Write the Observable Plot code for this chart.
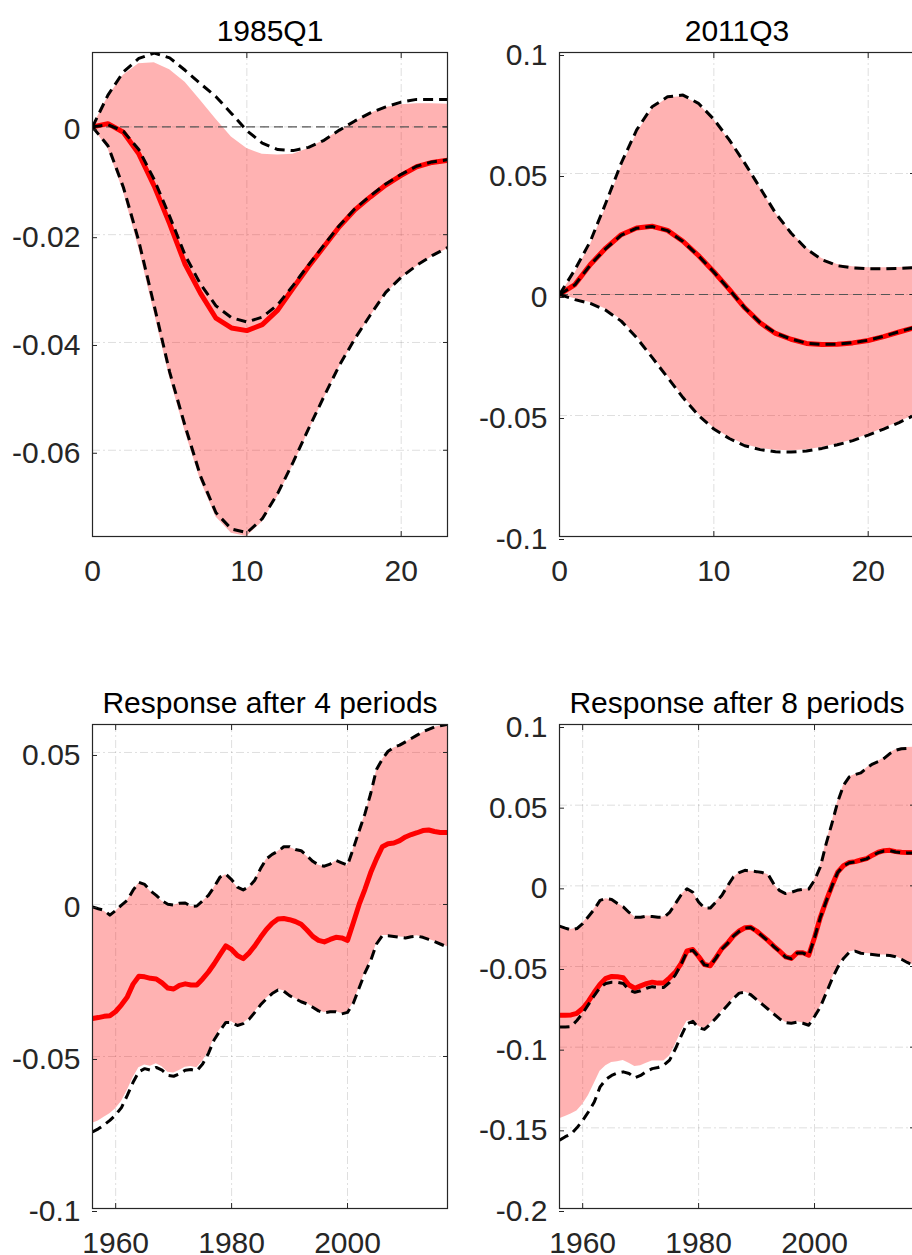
<!DOCTYPE html>
<html>
<head>
<meta charset="utf-8">
<script src="https://cdn.jsdelivr.net/npm/d3@7"></script>
<script src="https://cdn.jsdelivr.net/npm/@observablehq/plot@0.6"></script>
<style>
html, body { margin: 0; padding: 0; background: #fff; overflow: hidden; }
#fig { position: relative; width: 912px; height: 1255px; overflow: hidden; background: #fff; }
#fig svg { position: absolute; }
</style>
</head>
<body>
<div id="fig"></div>
<script>
// ---------------- Titles ----------------
const titles = ["1985Q1", "2011Q3", "Response after 4 periods", "Response after 8 periods"];

// ---------------- Tick labels ----------------
const horizonTicks = [0, 10, 20];
const yearTicks = [1960, 1980, 2000];
const tlYTicks = [-0.06, -0.04, -0.02, 0];
const trYTicks = [-0.1, -0.05, 0, 0.05, 0.1];
const blYTicks = [-0.1, -0.05, 0, 0.05];
const brYTicks = [-0.2, -0.15, -0.1, -0.05, 0, 0.05, 0.1];

// ---------------- Horizon (top panels) ----------------
const horizon = [0, 1, 2, 3, 4, 5, 6, 7, 8, 9, 10, 11, 12, 13, 14, 15, 16, 17, 18, 19, 20, 21, 22, 23];

// 1985Q1
const tlMedian  = [0, 0.0006, -0.0010, -0.0050, -0.0110, -0.0180, -0.0255, -0.0309, -0.0355, -0.0373, -0.0378, -0.0367, -0.0340, -0.0299, -0.0259, -0.0222, -0.0185, -0.0154, -0.0130, -0.0108, -0.0090, -0.0074, -0.0066, -0.0062];
const tlDashMed = [0, 0.0004, -0.0008, -0.0042, -0.0098, -0.0166, -0.0238, -0.0292, -0.0332, -0.0354, -0.0362, -0.0353, -0.0330, -0.0294, -0.0256, -0.0219, -0.0183, -0.0152, -0.0128, -0.0106, -0.0088, -0.0073, -0.0065, -0.0061];
const tlDashHi  = [0, 0.0059, 0.0102, 0.0127, 0.0137, 0.0128, 0.0105, 0.0080, 0.0056, 0.0025, -0.0007, -0.0030, -0.0042, -0.0044, -0.0038, -0.0025, -0.0006, 0.0011, 0.0026, 0.0037, 0.0046, 0.0051, 0.0051, 0.0051];
const tlBandHi  = [0, 0.0056, 0.0096, 0.0117, 0.0119, 0.0106, 0.0083, 0.0049, 0.0014, -0.0019, -0.0040, -0.0051, -0.0052, -0.0051, -0.0040, -0.0025, -0.0007, 0.0009, 0.0025, 0.0036, 0.0041, 0.0043, 0.0043, 0.0042];
const tlBandLo  = [0, -0.0040, -0.0120, -0.0225, -0.0345, -0.0465, -0.0565, -0.0656, -0.0724, -0.0754, -0.0760, -0.0733, -0.0686, -0.0628, -0.0565, -0.0504, -0.0445, -0.0396, -0.0352, -0.0310, -0.0281, -0.0259, -0.0241, -0.0226];
const tlDashLo  = [0, -0.0035, -0.0112, -0.0212, -0.0332, -0.0455, -0.0555, -0.0648, -0.0716, -0.0746, -0.0753, -0.0727, -0.0680, -0.0622, -0.0560, -0.0500, -0.0442, -0.0393, -0.0349, -0.0307, -0.0279, -0.0257, -0.0239, -0.0224];

// 2011Q3
const trMedian  = [0, 0.0041, 0.0124, 0.0192, 0.0247, 0.0275, 0.0282, 0.0265, 0.0220, 0.0161, 0.0094, 0.0021, -0.0055, -0.0117, -0.0161, -0.0185, -0.0202, -0.0207, -0.0206, -0.0200, -0.0190, -0.0174, -0.0155, -0.0137];
const trDashMed = [0, 0.0040, 0.0122, 0.0190, 0.0245, 0.0274, 0.0281, 0.0264, 0.0219, 0.0160, 0.0093, 0.0020, -0.0055, -0.0116, -0.0160, -0.0184, -0.0201, -0.0206, -0.0205, -0.0199, -0.0189, -0.0173, -0.0154, -0.0136];
const trDashHi  = [0, 0.0103, 0.0220, 0.0378, 0.0543, 0.0680, 0.0776, 0.0817, 0.0824, 0.0790, 0.0724, 0.0639, 0.0543, 0.0440, 0.0336, 0.0254, 0.0188, 0.0144, 0.0119, 0.0110, 0.0106, 0.0106, 0.0108, 0.0111];
const trBandHi  = [0, 0.0088, 0.0205, 0.0360, 0.0525, 0.0665, 0.0765, 0.0812, 0.0818, 0.0787, 0.0722, 0.0637, 0.0541, 0.0439, 0.0336, 0.0256, 0.0192, 0.0149, 0.0124, 0.0115, 0.0111, 0.0111, 0.0112, 0.0114];
const trBandLo  = [0, -0.0018, -0.0033, -0.0060, -0.0104, -0.0172, -0.0252, -0.0336, -0.0420, -0.0494, -0.0552, -0.0591, -0.0620, -0.0636, -0.0644, -0.0646, -0.0642, -0.0632, -0.0618, -0.0601, -0.0579, -0.0554, -0.0527, -0.0498];
const trDashLo  = [0, -0.0021, -0.0037, -0.0065, -0.0110, -0.0179, -0.0260, -0.0343, -0.0426, -0.0499, -0.0556, -0.0595, -0.0625, -0.0641, -0.0650, -0.0651, -0.0647, -0.0636, -0.0621, -0.0604, -0.0581, -0.0556, -0.0529, -0.0499];

// ---------------- Years (bottom panels) ----------------
const years = [1956, 1957, 1958, 1959, 1960, 1961, 1962, 1963, 1964, 1965,
               1966, 1967, 1968, 1969, 1970, 1971, 1972, 1973, 1974, 1975,
               1976, 1977, 1978, 1979, 1980, 1981, 1982, 1983, 1984, 1985,
               1986, 1987, 1988, 1989, 1990, 1991, 1992, 1993, 1994, 1995,
               1996, 1997, 1998, 1999, 2000, 2001, 2002, 2003, 2004, 2005,
               2006, 2007, 2008, 2009, 2010, 2011, 2012, 2013, 2014, 2015,
               2016, 2017.25];

// Response after 4 periods
const blMedian = [-0.0375, -0.0372, -0.0368, -0.0366, -0.0352, -0.0330, -0.0304, -0.0262, -0.0236, -0.0238,
                  -0.0243, -0.0245, -0.0258, -0.0275, -0.0278, -0.0266, -0.0261, -0.0265, -0.0265, -0.0245,
                  -0.0222, -0.0195, -0.0165, -0.0136, -0.0148, -0.0168, -0.0178, -0.0160, -0.0136, -0.0108,
                  -0.0082, -0.0062, -0.0048, -0.0046, -0.0050, -0.0056, -0.0065, -0.0084, -0.0105, -0.0118,
                  -0.0123, -0.0115, -0.0108, -0.0110, -0.0118, -0.0060, 0.0000, 0.0050, 0.0105, 0.0150,
                  0.0190, 0.0200, 0.0202, 0.0210, 0.0222, 0.0230, 0.0236, 0.0243, 0.0245, 0.0240,
                  0.0237, 0.0237];
const blDashHi = [-0.0008, -0.0014, -0.0019, -0.0035, -0.0020, -0.0002, 0.0014, 0.0047, 0.0073, 0.0066,
                  0.0045, 0.0030, 0.0012, 0.0001, -0.0002, 0.0004, 0.0005, -0.0006, -0.0005, 0.0012,
                  0.0030, 0.0058, 0.0090, 0.0100, 0.0082, 0.0057, 0.0048, 0.0058, 0.0080, 0.0118,
                  0.0150, 0.0165, 0.0175, 0.0190, 0.0190, 0.0181, 0.0177, 0.0160, 0.0142, 0.0130,
                  0.0126, 0.0133, 0.0145, 0.0137, 0.0129, 0.0184, 0.0242, 0.0298, 0.0365, 0.0444,
                  0.0478, 0.0504, 0.0517, 0.0524, 0.0535, 0.0546, 0.0557, 0.0568, 0.0576, 0.0584,
                  0.0588, 0.0592];
const blBandHi = [-0.0012, -0.0017, -0.0022, -0.0036, -0.0022, -0.0004, 0.0012, 0.0044, 0.0070, 0.0064,
                  0.0043, 0.0029, 0.0011, 0.0000, -0.0003, 0.0003, 0.0004, -0.0007, -0.0006, 0.0010,
                  0.0028, 0.0056, 0.0088, 0.0098, 0.0080, 0.0056, 0.0047, 0.0056, 0.0078, 0.0116,
                  0.0148, 0.0163, 0.0174, 0.0188, 0.0188, 0.0180, 0.0175, 0.0158, 0.0141, 0.0129,
                  0.0125, 0.0131, 0.0143, 0.0136, 0.0128, 0.0181, 0.0238, 0.0294, 0.0361, 0.0440,
                  0.0476, 0.0502, 0.0515, 0.0522, 0.0533, 0.0544, 0.0555, 0.0566, 0.0575, 0.0583,
                  0.0587, 0.0591];
const blBandLo = [-0.0720, -0.0712, -0.0700, -0.0688, -0.0672, -0.0648, -0.0612, -0.0570, -0.0537, -0.0528,
                  -0.0532, -0.0524, -0.0534, -0.0552, -0.0554, -0.0546, -0.0535, -0.0533, -0.0537, -0.0516,
                  -0.0484, -0.0440, -0.0411, -0.0385, -0.0386, -0.0397, -0.0391, -0.0377, -0.0354, -0.0329,
                  -0.0309, -0.0292, -0.0280, -0.0284, -0.0299, -0.0309, -0.0319, -0.0326, -0.0337, -0.0349,
                  -0.0355, -0.0352, -0.0352, -0.0359, -0.0354, -0.0324, -0.0274, -0.0224, -0.0184, -0.0129,
                  -0.0102, -0.0102, -0.0104, -0.0107, -0.0109, -0.0105, -0.0103, -0.0107, -0.0114, -0.0121,
                  -0.0129, -0.0139];
const blDashLo = [-0.0748, -0.0738, -0.0725, -0.0710, -0.0692, -0.0668, -0.0628, -0.0585, -0.0550, -0.0540,
                  -0.0545, -0.0536, -0.0545, -0.0562, -0.0565, -0.0557, -0.0545, -0.0543, -0.0547, -0.0525,
                  -0.0490, -0.0445, -0.0415, -0.0388, -0.0388, -0.0398, -0.0392, -0.0378, -0.0355, -0.0330,
                  -0.0310, -0.0293, -0.0281, -0.0285, -0.0300, -0.0310, -0.0320, -0.0327, -0.0338, -0.0350,
                  -0.0356, -0.0353, -0.0353, -0.0360, -0.0355, -0.0325, -0.0275, -0.0225, -0.0185, -0.0130,
                  -0.0103, -0.0103, -0.0105, -0.0108, -0.0110, -0.0106, -0.0104, -0.0108, -0.0115, -0.0122,
                  -0.0130, -0.0140];

// Response after 8 periods
const brMedian = [-0.0802, -0.0802, -0.0800, -0.0790, -0.0760, -0.0715, -0.0660, -0.0610, -0.0573, -0.0562,
                  -0.0564, -0.0570, -0.0615, -0.0635, -0.0620, -0.0606, -0.0597, -0.0603, -0.0602, -0.0570,
                  -0.0535, -0.0480, -0.0403, -0.0395, -0.0438, -0.0488, -0.0495, -0.0445, -0.0390, -0.0355,
                  -0.0310, -0.0280, -0.0260, -0.0257, -0.0280, -0.0310, -0.0340, -0.0375, -0.0405, -0.0440,
                  -0.0450, -0.0415, -0.0415, -0.0430, -0.0320, -0.0195, -0.0095, 0.0000, 0.0085, 0.0125,
                  0.0145, 0.0150, 0.0160, 0.0169, 0.0190, 0.0208, 0.0218, 0.0220, 0.0212, 0.0208,
                  0.0206, 0.0206];
const brDashMed = [-0.0875, -0.0875, -0.0872, -0.0835, -0.0790, -0.0735, -0.0680, -0.0630, -0.0605, -0.0598,
                   -0.0598, -0.0605, -0.0645, -0.0660, -0.0650, -0.0635, -0.0625, -0.0630, -0.0630, -0.0598,
                   -0.0552, -0.0485, -0.0408, -0.0400, -0.0440, -0.0490, -0.0497, -0.0448, -0.0393, -0.0357,
                   -0.0312, -0.0282, -0.0262, -0.0259, -0.0282, -0.0312, -0.0342, -0.0377, -0.0407, -0.0442,
                   -0.0452, -0.0417, -0.0417, -0.0432, -0.0322, -0.0197, -0.0097, -0.0002, 0.0083, 0.0123,
                   0.0143, 0.0148, 0.0158, 0.0167, 0.0188, 0.0206, 0.0216, 0.0218, 0.0210, 0.0206,
                   0.0204, 0.0204];
const brDashHi = [-0.0250, -0.0262, -0.0273, -0.0265, -0.0234, -0.0190, -0.0145, -0.0090, -0.0079, -0.0085,
                  -0.0110, -0.0130, -0.0165, -0.0195, -0.0195, -0.0188, -0.0190, -0.0195, -0.0195, -0.0165,
                  -0.0110, -0.0055, -0.0018, -0.0040, -0.0100, -0.0138, -0.0138, -0.0100, -0.0060, 0.0000,
                  0.0055, 0.0082, 0.0096, 0.0092, 0.0088, 0.0082, 0.0070, 0.0010, -0.0030, -0.0048,
                  -0.0040, -0.0028, -0.0022, -0.0020, 0.0035, 0.0117, 0.0260, 0.0386, 0.0520, 0.0623,
                  0.0675, 0.0690, 0.0700, 0.0730, 0.0755, 0.0770, 0.0790, 0.0820, 0.0840, 0.0850,
                  0.0852, 0.0855];
const brBandHi = [-0.0248, -0.0260, -0.0270, -0.0262, -0.0232, -0.0188, -0.0143, -0.0092, -0.0080, -0.0086,
                  -0.0110, -0.0129, -0.0163, -0.0193, -0.0193, -0.0187, -0.0189, -0.0193, -0.0193, -0.0164,
                  -0.0110, -0.0057, -0.0020, -0.0040, -0.0098, -0.0136, -0.0136, -0.0099, -0.0060, -0.0002,
                  0.0052, 0.0080, 0.0094, 0.0091, 0.0087, 0.0081, 0.0068, 0.0009, -0.0030, -0.0047,
                  -0.0039, -0.0027, -0.0021, -0.0019, 0.0040, 0.0125, 0.0270, 0.0392, 0.0522, 0.0623,
                  0.0674, 0.0690, 0.0700, 0.0730, 0.0756, 0.0772, 0.0793, 0.0823, 0.0843, 0.0854,
                  0.0858, 0.0860];
const brBandLo = [-0.1443, -0.1430, -0.1415, -0.1395, -0.1355, -0.1300, -0.1225, -0.1150, -0.1115, -0.1095,
                  -0.1090, -0.1083, -0.1100, -0.1120, -0.1115, -0.1100, -0.1085, -0.1085, -0.1085, -0.1055,
                  -0.0985, -0.0905, -0.0840, -0.0835, -0.0872, -0.0885, -0.0855, -0.0818, -0.0778, -0.0738,
                  -0.0697, -0.0663, -0.0658, -0.0673, -0.0703, -0.0733, -0.0763, -0.0793, -0.0823, -0.0846,
                  -0.0850, -0.0843, -0.0850, -0.0862, -0.0808, -0.0749, -0.0663, -0.0578, -0.0503, -0.0448,
                  -0.0410, -0.0403, -0.0416, -0.0420, -0.0423, -0.0428, -0.0428, -0.0430, -0.0438, -0.0453,
                  -0.0473, -0.0493];
const brDashLo = [-0.1577, -0.1555, -0.1538, -0.1500, -0.1455, -0.1400, -0.1340, -0.1246, -0.1200, -0.1175,
                  -0.1160, -0.1153, -0.1163, -0.1190, -0.1175, -0.1150, -0.1133, -0.1126, -0.1112, -0.1080,
                  -0.1010, -0.0930, -0.0855, -0.0840, -0.0880, -0.0890, -0.0858, -0.0820, -0.0780, -0.0740,
                  -0.0699, -0.0665, -0.0660, -0.0675, -0.0705, -0.0735, -0.0765, -0.0795, -0.0825, -0.0848,
                  -0.0852, -0.0845, -0.0852, -0.0864, -0.0810, -0.0751, -0.0665, -0.0580, -0.0505, -0.0450,
                  -0.0412, -0.0405, -0.0418, -0.0422, -0.0425, -0.0430, -0.0430, -0.0432, -0.0440, -0.0455,
                  -0.0475, -0.0495];

// ---------------- Drawing ----------------
const FONT = '"Liberation Sans", Arial, Helvetica, sans-serif';
const fig = document.getElementById("fig");

function panel(cfg) {
  const rows = cfg.x.map((xv, i) => ({
    x: xv,
    lo: cfg.bandLo[i], hi: cfg.bandHi[i], med: cfg.median[i],
    dlo: cfg.dashLo[i], dhi: cfg.dashHi[i],
    dmed: cfg.dashMed ? cfg.dashMed[i] : NaN
  }));
  const grid = {stroke: "#262626", strokeOpacity: 0.15, strokeWidth: 1, strokeDasharray: "8,3,2,3"};
  const dashed = {stroke: "black", strokeWidth: 3, strokeDasharray: "10,6", strokeLinecap: "butt", strokeLinejoin: "round", clip: true};
  const fmt = (d) => String(d);
  const marks = [
    Plot.gridX(cfg.xTicks, grid),
    Plot.gridY(cfg.yTicks, grid),
    Plot.areaY(rows, {x: "x", y1: "lo", y2: "hi", fill: "#ff0000", fillOpacity: 0.3, clip: true})
  ];
  if (cfg.zero) marks.push(Plot.ruleY([0], {stroke: "#555", strokeWidth: 1.2, strokeDasharray: "9,5"}));
  marks.push(Plot.line(rows, {x: "x", y: "med", stroke: "#ff0000", strokeWidth: 5, clip: true}));
  marks.push(Plot.line(rows, {x: "x", y: "dhi", ...dashed}));
  marks.push(Plot.line(rows, {x: "x", y: "dlo", ...dashed}));
  if (cfg.dashMed) marks.push(Plot.line(rows, {x: "x", y: "dmed", ...dashed}));
  marks.push(Plot.frame({stroke: "#262626", strokeWidth: 1.2}));
  marks.push(Plot.axisY(cfg.yTicks, {anchor: "left", label: null, tickSize: -5, tickPadding: 17, dy: 3, tickFormat: fmt}));
  marks.push(Plot.axisY(cfg.yTicks, {anchor: "right", label: null, tickSize: -5, tickFormat: () => ""}));
  marks.push(Plot.axisX(cfg.xTicks, {anchor: "bottom", label: null, tickSize: -5, tickPadding: 28, tickFormat: fmt}));
  marks.push(Plot.axisX(cfg.xTicks, {anchor: "top", label: null, tickSize: -5, tickFormat: () => ""}));
  marks.push(Plot.text([cfg.title], {text: (d) => d, frameAnchor: "top", lineAnchor: "bottom", dy: -12, fontSize: 30, fill: "black"}));

  const svg = Plot.plot({
    width: 457, height: 586,
    marginLeft: 92, marginRight: 10, marginTop: 52, marginBottom: 50,
    x: {domain: cfg.xDomain, axis: null},
    y: {domain: cfg.yDomain, axis: null},
    style: {fontFamily: FONT, fontSize: "30px", color: "#262626", background: "transparent", overflow: "visible"},
    marks
  });
  svg.style.left = cfg.left + "px";
  svg.style.top = cfg.top + "px";
  fig.appendChild(svg);
}

panel({left: 0, top: 0, title: titles[0], x: horizon, xDomain: [0, 23], xTicks: horizonTicks,
       yDomain: [-0.076, 0.0138], yTicks: tlYTicks, zero: true,
       bandLo: tlBandLo, bandHi: tlBandHi, median: tlMedian, dashLo: tlDashLo, dashHi: tlDashHi, dashMed: tlDashMed});
panel({left: 467.3, top: 0, title: titles[1], x: horizon, xDomain: [0, 23], xTicks: horizonTicks,
       yDomain: [-0.1, 0.1], yTicks: trYTicks, zero: true,
       bandLo: trBandLo, bandHi: trBandHi, median: trMedian, dashLo: trDashLo, dashHi: trDashHi, dashMed: trDashMed});
panel({left: 0, top: 672.3, title: titles[2], x: years, xDomain: [1956, 2017.25], xTicks: yearTicks,
       yDomain: [-0.1, 0.0592], yTicks: blYTicks, zero: false,
       bandLo: blBandLo, bandHi: blBandHi, median: blMedian, dashLo: blDashLo, dashHi: blDashHi, dashMed: null});
panel({left: 467.3, top: 672.3, title: titles[3], x: years, xDomain: [1956, 2017.25], xTicks: yearTicks,
       yDomain: [-0.2, 0.1], yTicks: brYTicks, zero: false,
       bandLo: brBandLo, bandHi: brBandHi, median: brMedian, dashLo: brDashLo, dashHi: brDashHi, dashMed: brDashMed});
</script>
</body>
</html>
